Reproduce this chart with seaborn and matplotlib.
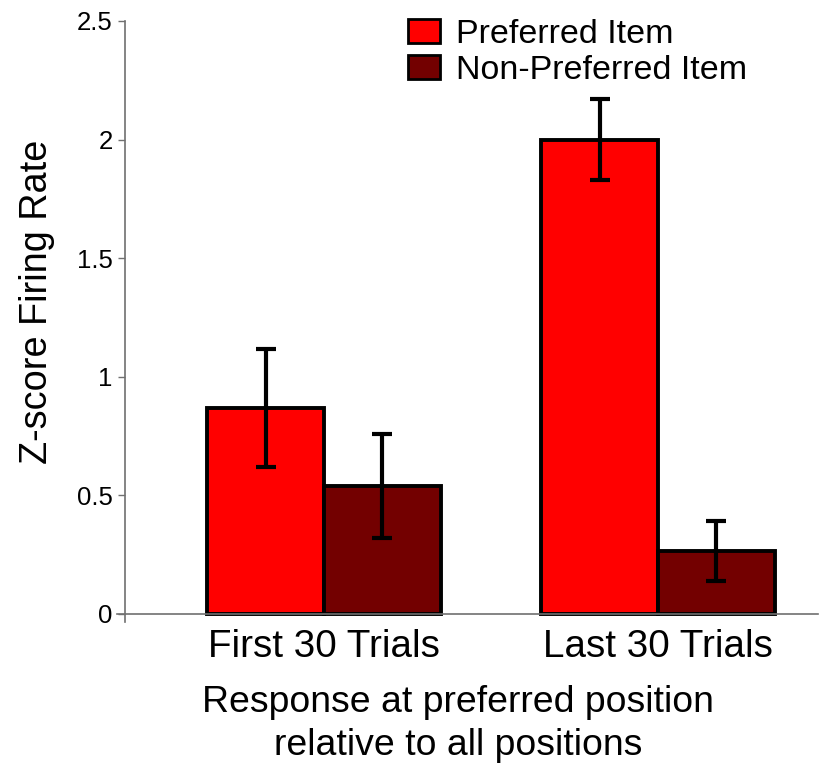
import matplotlib
matplotlib.use("Agg")
import matplotlib.pyplot as plt
import seaborn as sns
import pandas as pd

categories = ["First 30 Trials", "Last 30 Trials"]
items = ["Preferred Item", "Non-Preferred Item"]
preferred_vals = [0.868, 2.0]
nonpreferred_vals = [0.54, 0.265]
preferred_err = [0.248, 0.17]
nonpreferred_err = [0.22, 0.125]
yticks = [0, 0.5, 1, 1.5, 2, 2.5]
ytick_labels = ["0", "0.5", "1", "1.5", "2", "2.5"]

df = pd.DataFrame({
    "condition": categories * 2,
    "item": [items[0]] * 2 + [items[1]] * 2,
    "value": preferred_vals + nonpreferred_vals,
})
errs = {items[0]: preferred_err, items[1]: nonpreferred_err}

sns.set_style("white")
plt.rcParams["font.family"] = ["Liberation Sans", "DejaVu Sans"]
plt.rcParams["text.color"] = "black"
plt.rcParams["axes.labelcolor"] = "black"
plt.rcParams["xtick.color"] = "black"
plt.rcParams["ytick.color"] = "black"

W, H = 821, 765
fig = plt.figure(figsize=(W / 100, H / 100), dpi=100)
ax = fig.add_axes([125 / W, (H - 622) / H, (818 - 125) / W, (622 - 21) / H])

sns.barplot(data=df, x="condition", y="value", hue="item", order=categories,
            hue_order=items, palette={items[0]: "#FF0000", items[1]: "#730000"},
            saturation=1, width=0.7, errorbar=None, edgecolor="black",
            linewidth=2.8, ax=ax)

for cont, level in zip(ax.containers, items):
    xs = [b.get_x() + b.get_width() / 2 for b in cont]
    ys = [b.get_height() for b in cont]
    ax.errorbar(xs, ys, yerr=errs[level], fmt="none", ecolor="black",
                elinewidth=3, capsize=7.2, capthick=3, zorder=5)

ax.set_xlim(-0.596, 1.479)
ax.set_ylim(-0.034, 2.5)
ax.set_yticks(yticks)
ax.set_yticklabels(ytick_labels)

for s in ["top", "right"]:
    ax.spines[s].set_visible(False)
for s in ["left", "bottom"]:
    ax.spines[s].set_color("#707070")
    ax.spines[s].set_linewidth(1.2)
ax.spines["bottom"].set_position(("data", 0))
ax.spines["bottom"].set_bounds(-0.62, 1.479)

ax.tick_params(axis="y", direction="out", length=5, width=1, color="#707070",
               labelsize=18.5, labelcolor="black", pad=4, left=True)
ax.tick_params(axis="x", length=0, labelsize=27.8, labelcolor="black", pad=11)

ax.set_ylabel("Z-score Firing Rate", fontsize=27.3, color="black")
ax.yaxis.set_label_coords(-0.101, 0.5325)
ax.set_xlabel("Response at preferred position\nrelative to all positions",
              fontsize=26.9, linespacing=1.3, color="black")
ax.xaxis.set_label_coords(0.4805, -0.104)

leg = ax.legend(loc="upper left", bbox_to_anchor=(408 / W, 1 - 19 / H),
                bbox_transform=fig.transFigure, frameon=False, fontsize=24.5,
                handlelength=0.95, handleheight=0.72, handletextpad=0.45,
                labelspacing=0.15, borderpad=0, borderaxespad=0)
for t in leg.get_texts():
    t.set_color("black")
for h in leg.legend_handles:
    h.set_edgecolor("black")
    h.set_linewidth(2)

fig.savefig("out.png", dpi=100)
